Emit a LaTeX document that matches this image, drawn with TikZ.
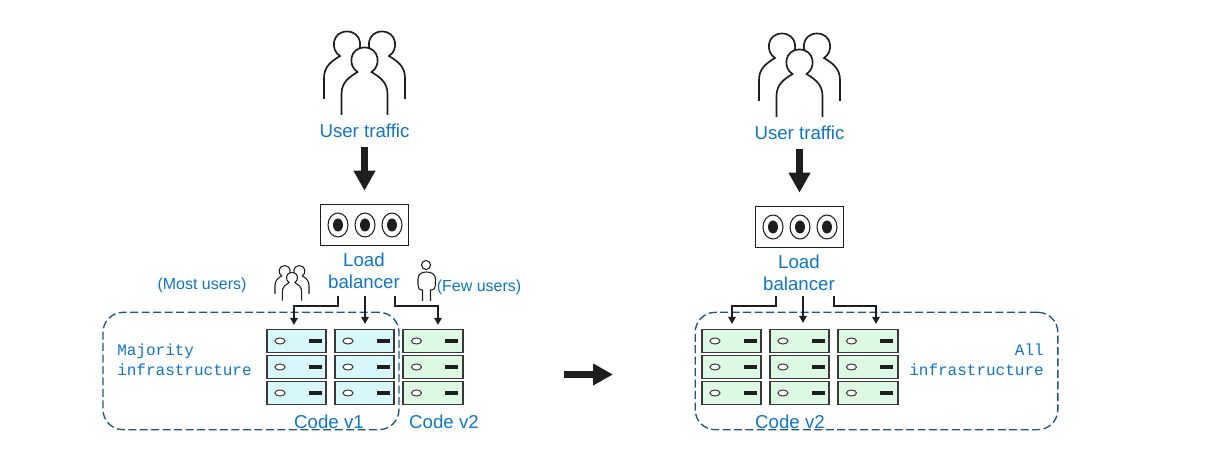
\documentclass[tikz,border=0pt]{standalone}
\usepackage{fontspec}
\setmainfont{Liberation Sans}
\setmonofont{Liberation Mono}
\usetikzlibrary{arrows.meta,positioning,shapes.geometric}

\definecolor{labelblue}{HTML}{0F75C6}
\definecolor{edgeblue}{HTML}{1F5583}
\definecolor{inkdark}{HTML}{1E1E1E}
\definecolor{v1fill}{HTML}{D8F7FA}
\definecolor{v2fill}{HTML}{DDF8E3}

% outline of one person of a crowd, head centre at the origin
\newcommand{\personpath}{(-23,54) -- (-23,33) .. controls (-23,21) and (-15,16) .. (-7,11)
  .. controls (-17,5) and (-15,-13.5) .. (0,-13.5) .. controls (15,-13.5) and (17,5) .. (7,11)
  .. controls (15,16) and (23,21) .. (23,33) -- (23,54)}

\tikzset{
  biglabel/.style={text=labelblue,font=\fontsize{14}{16.5}\selectfont,align=center,inner sep=0pt},
  smalllabel/.style={text=labelblue,font=\fontsize{12}{14}\selectfont,inner sep=0pt},
  monolabel/.style={text=labelblue,font=\ttfamily\fontsize{12}{15}\selectfont,inner sep=0pt},
  zone/.style={draw=edgeblue,line width=1pt,dash pattern=on 6pt off 2.6pt,rounded corners=15pt,inner sep=0pt},
  lbbox/.style={draw=inkdark,line width=1pt,minimum width=66pt,minimum height=30.5pt,inner sep=0pt},
  traffic/.style={draw=inkdark,line width=5.4pt,shorten <=7pt,shorten >=10pt,-{Triangle[width=15.5pt,length=15pt]}},
  flow/.style={draw=inkdark,line width=1.6pt,-{Triangle[width=5.6pt,length=5.4pt]}},
  serverbox/.style={draw=inkdark!88,line width=1.2pt,minimum width=44.6pt,minimum height=17pt,inner sep=0pt},
  pics/crowd/.style={code={
    \draw[inkdark,line width=#1,shift={(-17.5,-16)}] \personpath;
    \draw[inkdark,line width=#1,shift={(17.5,-16)}] \personpath;
    \draw[inkdark,line width=#1,fill=white] \personpath;
  }},
  pics/server/.style={code={
    \node[serverbox,fill=#1] (-box) {};
    \node[draw=inkdark!85,fill=white,line width=.8pt,ellipse,minimum width=7.5pt,minimum height=4.5pt,inner sep=0pt,xshift=-12.4pt] (-led) at (-box.center) {};
    \node[fill=inkdark,minimum width=9.6pt,minimum height=2.6pt,inner sep=0pt,xshift=14pt] (-slot) at (-box.center) {};
  }},
}

\begin{document}
\begin{tikzpicture}[x=.75pt,y=-.75pt]
\useasboundingbox (0,0) rectangle (1208,456);

% left side
\pic at (364.5,61) {crowd=1.25pt};
\node[biglabel] (userl) at (364.5,131) {User traffic};
\node[lbbox] (lbl) at (364.5,225) {};
\foreach \cx in {-27,0,27}{
  \draw[inkdark,line width=.8pt] (365+\cx,225) ellipse (10 and 12);
  \fill[inkdark] (365+\cx,225) ellipse (5 and 6.5);
}
\node[biglabel] (balancerl) at (364,271) {Load\\balancer};
\draw[traffic] (userl) -- (lbl);

\node[smalllabel] (mostusers) at (202,285.5) {(Most users)};
\node[smalllabel] (fewusers) at (479,287) {(Few users)};
\pic[scale=.42] at (292,278) {crowd=.8pt};
\coordinate (onehead) at (426,265);
\draw[inkdark,line width=.8pt] (onehead) circle (4.5);
\draw[inkdark,line width=.8pt] (422.5,301) -- (422.5,290) .. controls (419,290) and (418,288) .. (418,285)
  -- (418,279) .. controls (418,274) and (422,272) .. (426.5,272)
  .. controls (431,272) and (435.5,274) .. (435.5,279) -- (435.5,285)
  .. controls (435.5,288) and (434,290) .. (430.5,290) -- (430.5,301);

\node[zone,minimum width=222pt,minimum height=88pt] (zonel) at (251,371) {};
\node[monolabel,align=left,right] (majority) at (117,360) {Majority\\infrastructure};

\foreach \col/\colx/\colr in {a/296.5/v1fill,b/364.5/v1fill,c/433/v2fill}{
  \foreach \row/\rowy in {1/341,2/367,3/393}{
    \pic (l\col\row) at (\colx,\rowy) {server=\colr};
  }
}
\node[biglabel] (codev1) at (329,422) {Code v1};
\node[biglabel] (codev2l) at (444,422) {Code v2};

\coordinate (lout1) at (338,296);
\coordinate (lout2) at (365,296);
\coordinate (lout3) at (395,296);
\coordinate (ltip1) at (294,325);
\coordinate (ltip2) at (365,324);
\coordinate (ltip3) at (438,325);
\draw[flow] (lout1) -- ++(0,10) -| (ltip1);
\draw[flow] (lout2) -- (ltip2);
\draw[flow] (lout3) -- ++(0,10) -| (ltip3);

% the step between the two states
\coordinate (stepfrom) at (564,374.5);
\coordinate (stepto) at (613,374.5);
\draw[traffic,shorten <=0pt,shorten >=0pt] (stepfrom) -- (stepto);

% right side
\pic at (799.5,63) {crowd=1.25pt};
\node[biglabel] (userr) at (799.5,133) {User traffic};
\node[lbbox] (lbr) at (799.5,227) {};
\foreach \cx in {-27,0,27}{
  \draw[inkdark,line width=.8pt] (800+\cx,227) ellipse (10 and 12);
  \fill[inkdark] (800+\cx,227) ellipse (5 and 6.5);
}
\node[biglabel] (balancerr) at (799,273) {Load\\balancer};
\draw[traffic] (userr) -- (lbr);

\node[zone,minimum width=272pt,minimum height=88pt] (zoner) at (876.5,371) {};
\node[monolabel,align=right,left] (allinfra) at (1044,360) {All\\infrastructure};

\foreach \col/\colx in {a/731.5,b/799.5,c/868}{
  \foreach \row/\rowy in {1/341,2/367,3/393}{
    \pic (r\col\row) at (\colx,\rowy) {server=v2fill};
  }
}
\node[biglabel] (codev2r) at (790,422) {Code v2};

\coordinate (rout1) at (776,296);
\coordinate (rout2) at (803,296);
\coordinate (rout3) at (834,296);
\coordinate (rtip1) at (732,324);
\coordinate (rtip2) at (803,323);
\coordinate (rtip3) at (876,324);
\draw[flow] (rout1) -- ++(0,10) -| (rtip1);
\draw[flow] (rout2) -- (rtip2);
\draw[flow] (rout3) -- ++(0,10) -| (rtip3);
\end{tikzpicture}
\end{document}
